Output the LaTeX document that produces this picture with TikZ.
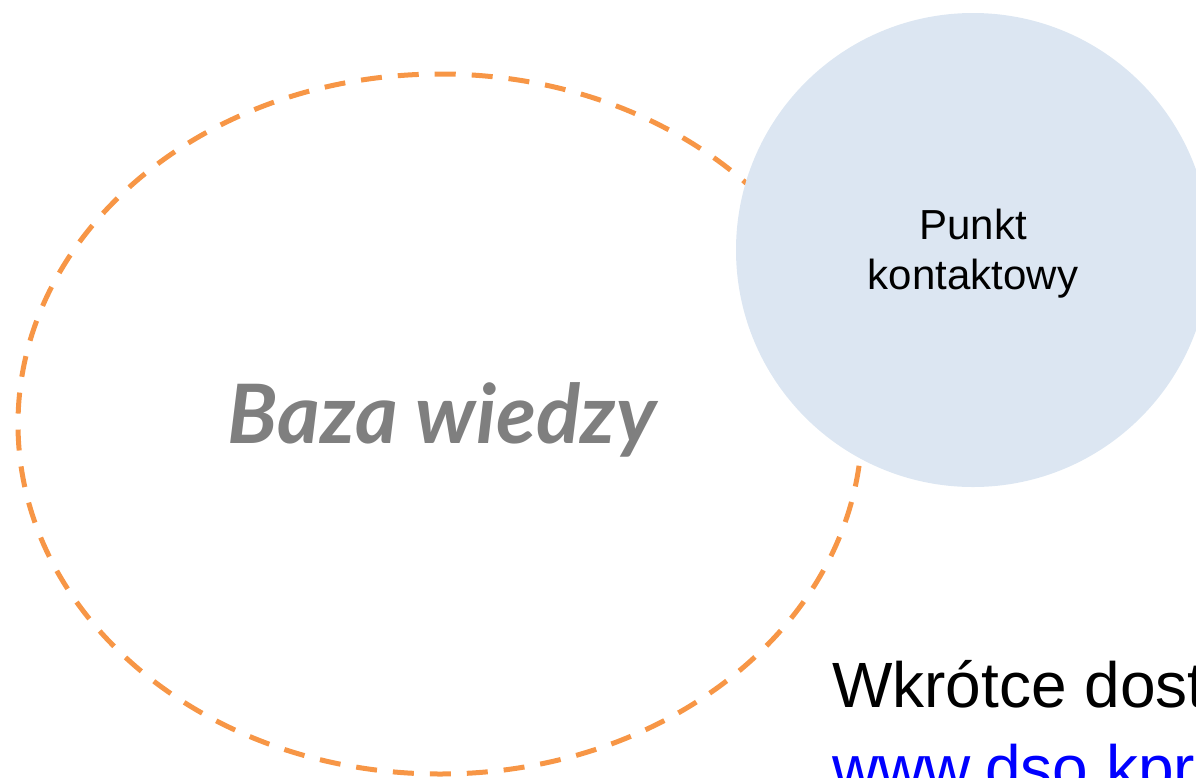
\documentclass[tikz,border=0pt]{standalone}
\usepackage{fontspec}
\setmainfont{Liberation Sans}
\newfontfamily\handfont{Lato}
\usetikzlibrary{shapes.geometric}
\definecolor{kborange}{HTML}{F79646}
\definecolor{kbblue}{HTML}{DCE6F2}
\definecolor{kbgray}{HTML}{7F7F7F}
\definecolor{linkblue}{HTML}{0000FF}
\tikzset{
  kbellipse/.style={ellipse, draw=kborange, line width=5pt, dash pattern=on 21pt off 16pt,
    minimum width=844pt, minimum height=700pt, inner sep=0pt, outer sep=0pt},
  contact/.style={circle, fill=kbblue, draw=none, minimum size=474pt, inner sep=0pt},
  contacttext/.style={align=center, inner sep=0pt, font=\fontsize{42}{50}\selectfont},
  handtext/.style={text=kbgray, font=\handfont\bfseries\itshape\fontsize{82}{90}\selectfont, inner sep=0pt},
  bigtext/.style={anchor=base west, inner sep=0pt, font=\fontsize{64}{77}\selectfont}
}
\begin{document}
\begin{tikzpicture}[x=1pt,y=-1pt]
\useasboundingbox (0,0) rectangle (1196,777);
\clip (0,0) rectangle (1196,777);
\node[kbellipse] (kb) at (440,424) {};
\node[handtext] (kbtext) at (442,420) {Baza wiedzy};
\node[contact] (pk) at (973,250) {};
\node[contacttext] (pktext) at (973,254) {Punkt\\kontaktowy};
\node[bigtext] (soon) at (832,707) {Wkrótce dost};
\node[bigtext, text=linkblue] (www) at (832,790) {www.dso.kpru};
\end{tikzpicture}
\end{document}
